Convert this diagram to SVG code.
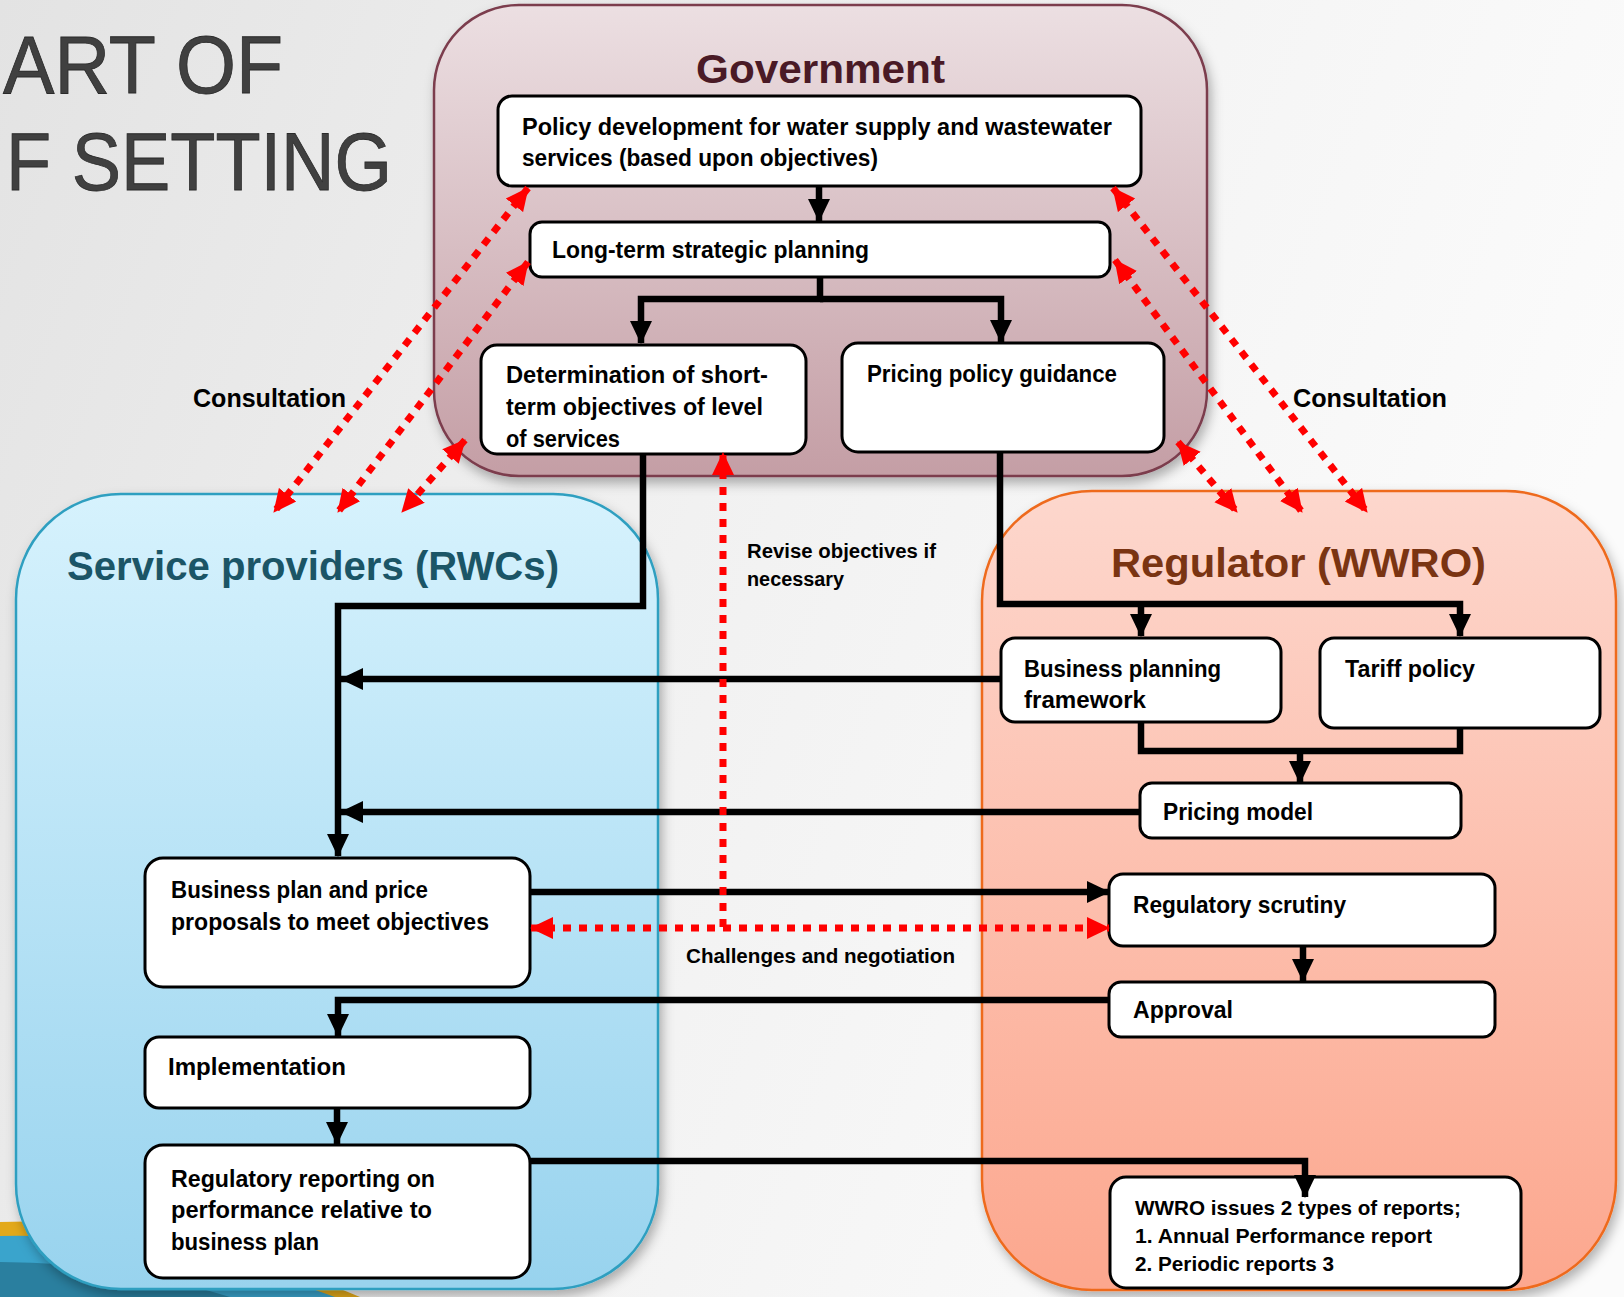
<svg xmlns="http://www.w3.org/2000/svg" width="1624" height="1297" viewBox="0 0 1624 1297">
<defs>
<linearGradient id="bg" x1="0" y1="0" x2="1" y2="0.3">
<stop offset="0" stop-color="#e3e3e3"/><stop offset="0.5" stop-color="#f1f1f1"/><stop offset="1" stop-color="#fbfbfb"/>
</linearGradient>
<linearGradient id="gGov" x1="0" y1="0" x2="0" y2="1">
<stop offset="0" stop-color="#ecdfe2"/><stop offset="1" stop-color="#c49ea5"/>
</linearGradient>
<linearGradient id="gRwc" x1="0" y1="0" x2="0" y2="1">
<stop offset="0" stop-color="#d6f2fd"/><stop offset="1" stop-color="#98d3ee"/>
</linearGradient>
<linearGradient id="gWwro" x1="0" y1="0" x2="0" y2="1">
<stop offset="0" stop-color="#fdd7cd"/><stop offset="1" stop-color="#fca78e"/>
</linearGradient>
<filter id="sh" x="-10%" y="-10%" width="120%" height="125%">
<feDropShadow dx="3" dy="6" stdDeviation="6" flood-color="#000" flood-opacity="0.3"/>
</filter>
<marker id="ab" markerUnits="userSpaceOnUse" markerWidth="24" markerHeight="24" refX="22" refY="12" orient="auto-start-reverse" viewBox="0 0 24 24">
<path d="M0,1 L23,12 L0,23 Z" fill="#000"/>
</marker>
<marker id="ar" markerUnits="userSpaceOnUse" markerWidth="24" markerHeight="24" refX="22" refY="12" orient="auto-start-reverse" viewBox="0 0 24 24">
<path d="M0,1 L23,12 L0,23 Z" fill="#ff0000"/>
</marker>
<style>
.t{font-family:"Liberation Sans",Arial,sans-serif;font-weight:bold;fill:#000;font-size:23px}
.s{font-size:21px}
.h{font-family:"Liberation Sans",Arial,sans-serif;font-weight:bold;font-size:41px}
.box{fill:#fff;stroke:#000;stroke-width:3}
.blk{fill:none;stroke:#000;stroke-width:6.5}
.red{fill:none;stroke:#ff0000;stroke-width:7;stroke-dasharray:8 8}
.ttl{font-family:"Liberation Sans",Arial,sans-serif;font-size:81px;fill:#404040;stroke:#2a2a2a;stroke-width:0.8}
</style>
</defs>
<rect x="0" y="0" width="1624" height="1297" fill="url(#bg)"/>
<!-- bottom-left slide decoration -->
<path d="M0,1222 Q170,1215 360,1297 L0,1297 Z" fill="#e3a91a"/>
<path d="M0,1236 Q160,1232 335,1297 L0,1297 Z" fill="#3aa4cc"/>
<path d="M0,1262 Q120,1262 230,1297 L0,1297 Z" fill="#2a7f9f"/>
<g id="title">
<text class="ttl" x="3" y="93" textLength="280" lengthAdjust="spacingAndGlyphs">ART OF</text>
<text class="ttl" x="6" y="190" textLength="386" lengthAdjust="spacingAndGlyphs">F SETTING</text>
</g>
<g id="government">
<rect x="434" y="5" width="773" height="471" rx="85" fill="url(#gGov)" stroke="#7b3d4d" stroke-width="2.5" filter="url(#sh)"/>
<text class="h" x="696" y="83" fill="#4a1a26" textLength="249" lengthAdjust="spacingAndGlyphs">Government</text>
</g>
<g id="service-providers">
<rect x="16" y="494" width="642" height="795" rx="105" fill="url(#gRwc)" stroke="#2f9fc0" stroke-width="2.5" filter="url(#sh)"/>
<text class="h" x="67" y="580" fill="#1b5566" textLength="492" lengthAdjust="spacingAndGlyphs">Service providers (RWCs)</text>
</g>
<g id="regulator">
<rect x="982" y="491" width="634" height="799" rx="110" fill="url(#gWwro)" stroke="#ee6a1e" stroke-width="2.5" filter="url(#sh)"/>
<text class="h" x="1111" y="577" fill="#7a3412" textLength="375" lengthAdjust="spacingAndGlyphs">Regulator (WWRO)</text>
</g>
<g id="policy-development">
<rect class="box" x="498" y="96" width="643" height="90" rx="14"/>
<text class="t" x="522" y="135" textLength="590" lengthAdjust="spacingAndGlyphs">Policy development for water supply and wastewater</text>
<text class="t" x="522" y="166" textLength="356" lengthAdjust="spacingAndGlyphs">services (based upon objectives)</text>
</g>
<g id="long-term-planning">
<rect class="box" x="530" y="222" width="580" height="55" rx="12"/>
<text class="t" x="552" y="258" textLength="317" lengthAdjust="spacingAndGlyphs">Long-term strategic planning</text>
</g>
<g id="short-term-objectives">
<rect class="box" x="481" y="345" width="325" height="109" rx="16"/>
<text class="t" x="506" y="383" textLength="262" lengthAdjust="spacingAndGlyphs">Determination of short-</text>
<text class="t" x="506" y="415" textLength="257" lengthAdjust="spacingAndGlyphs">term objectives of level</text>
<text class="t" x="506" y="447" textLength="114" lengthAdjust="spacingAndGlyphs">of services</text>
</g>
<g id="pricing-policy-guidance">
<rect class="box" x="842" y="343" width="322" height="109" rx="16"/>
<text class="t" x="867" y="382" textLength="250" lengthAdjust="spacingAndGlyphs">Pricing policy guidance</text>
</g>
<g id="business-planning-framework">
<rect class="box" x="1001" y="638" width="280" height="84" rx="14"/>
<text class="t" x="1024" y="677" textLength="197" lengthAdjust="spacingAndGlyphs">Business planning</text>
<text class="t" x="1024" y="708" textLength="122" lengthAdjust="spacingAndGlyphs">framework</text>
</g>
<g id="tariff-policy">
<rect class="box" x="1320" y="638" width="280" height="90" rx="14"/>
<text class="t" x="1345" y="677" textLength="130" lengthAdjust="spacingAndGlyphs">Tariff policy</text>
</g>
<g id="pricing-model">
<rect class="box" x="1140" y="783" width="321" height="55" rx="12"/>
<text class="t" x="1163" y="820" textLength="150" lengthAdjust="spacingAndGlyphs">Pricing model</text>
</g>
<g id="regulatory-scrutiny">
<rect class="box" x="1109" y="874" width="386" height="72" rx="14"/>
<text class="t" x="1133" y="913" textLength="213" lengthAdjust="spacingAndGlyphs">Regulatory scrutiny</text>
</g>
<g id="approval">
<rect class="box" x="1109" y="982" width="386" height="55" rx="12"/>
<text class="t" x="1133" y="1018" textLength="100" lengthAdjust="spacingAndGlyphs">Approval</text>
</g>
<g id="wwro-reports">
<rect class="box" x="1110" y="1177" width="411" height="111" rx="16"/>
<text class="t s" x="1135" y="1215" textLength="326" lengthAdjust="spacingAndGlyphs">WWRO issues 2 types of reports;</text>
<text class="t s" x="1135" y="1243" textLength="297" lengthAdjust="spacingAndGlyphs">1. Annual Performance report</text>
<text class="t s" x="1135" y="1271" textLength="199" lengthAdjust="spacingAndGlyphs">2. Periodic reports 3</text>
</g>
<g id="business-plan">
<rect class="box" x="145" y="858" width="385" height="129" rx="18"/>
<text class="t" x="171" y="898" textLength="257" lengthAdjust="spacingAndGlyphs">Business plan and price</text>
<text class="t" x="171" y="930" textLength="318" lengthAdjust="spacingAndGlyphs">proposals to meet objectives</text>
</g>
<g id="implementation">
<rect class="box" x="145" y="1037" width="385" height="71" rx="14"/>
<text class="t" x="168" y="1075" textLength="178" lengthAdjust="spacingAndGlyphs">Implementation</text>
</g>
<g id="regulatory-reporting">
<rect class="box" x="145" y="1145" width="385" height="133" rx="18"/>
<text class="t" x="171" y="1187" textLength="264" lengthAdjust="spacingAndGlyphs">Regulatory reporting on</text>
<text class="t" x="171" y="1218" textLength="261" lengthAdjust="spacingAndGlyphs">performance relative to</text>
<text class="t" x="171" y="1250" textLength="148" lengthAdjust="spacingAndGlyphs">business plan</text>
</g>
<g id="connectors">
<path class="blk" d="M819,186 V221" marker-end="url(#ab)"/>
<path class="blk" d="M820,277 V299 H641 V343" marker-end="url(#ab)"/>
<path class="blk" d="M820,299 H1001 V342" marker-end="url(#ab)"/>
<path class="blk" d="M643,454 V606 H338 V856" marker-end="url(#ab)"/>
<path class="blk" d="M1000,452 V604 H1460 V636" marker-end="url(#ab)"/>
<path class="blk" d="M1141,604 V636" marker-end="url(#ab)"/>
<path class="blk" d="M1001,679 H341" marker-end="url(#ab)"/>
<path class="blk" d="M1141,722 V751 H1460 V728"/>
<path class="blk" d="M1300,751 V783" marker-end="url(#ab)"/>
<path class="blk" d="M1140,812 H341" marker-end="url(#ab)"/>
<path class="blk" d="M530,892 H1109" marker-end="url(#ab)"/>
<path class="blk" d="M1303,946 V981" marker-end="url(#ab)"/>
<path class="blk" d="M1109,1000 H338 V1036" marker-end="url(#ab)"/>
<path class="blk" d="M337,1108 V1144" marker-end="url(#ab)"/>
<path class="blk" d="M530,1161 H1305 V1197" marker-end="url(#ab)"/>
<path class="red" d="M528,188 L274,512" marker-start="url(#ar)" marker-end="url(#ar)"/>
<path class="red" d="M528,262 L338,512" marker-start="url(#ar)" marker-end="url(#ar)"/>
<path class="red" d="M465,440 L402,512" marker-start="url(#ar)" marker-end="url(#ar)"/>
<path class="red" d="M1113,188 L1367,512" marker-start="url(#ar)" marker-end="url(#ar)"/>
<path class="red" d="M1115,260 L1302,512" marker-start="url(#ar)" marker-end="url(#ar)"/>
<path class="red" d="M1178,442 L1237,512" marker-start="url(#ar)" marker-end="url(#ar)"/>
<path class="red" d="M723,927 V453" marker-end="url(#ar)"/>
<path class="red" d="M531,928 H1109" marker-start="url(#ar)" marker-end="url(#ar)"/>
</g>
<g id="labels">
<text class="t" x="193" y="407" style="font-size:25px" textLength="153" lengthAdjust="spacingAndGlyphs">Consultation</text>
<text class="t" x="1293" y="407" style="font-size:25px" textLength="154" lengthAdjust="spacingAndGlyphs">Consultation</text>
<text class="t" x="747" y="558" style="font-size:20px" textLength="189" lengthAdjust="spacingAndGlyphs">Revise objectives if</text>
<text class="t" x="747" y="586" style="font-size:20px" textLength="97" lengthAdjust="spacingAndGlyphs">necessary</text>
<text class="t" x="686" y="963" style="font-size:20px" textLength="269" lengthAdjust="spacingAndGlyphs">Challenges and negotiation</text>
</g>
</svg>
